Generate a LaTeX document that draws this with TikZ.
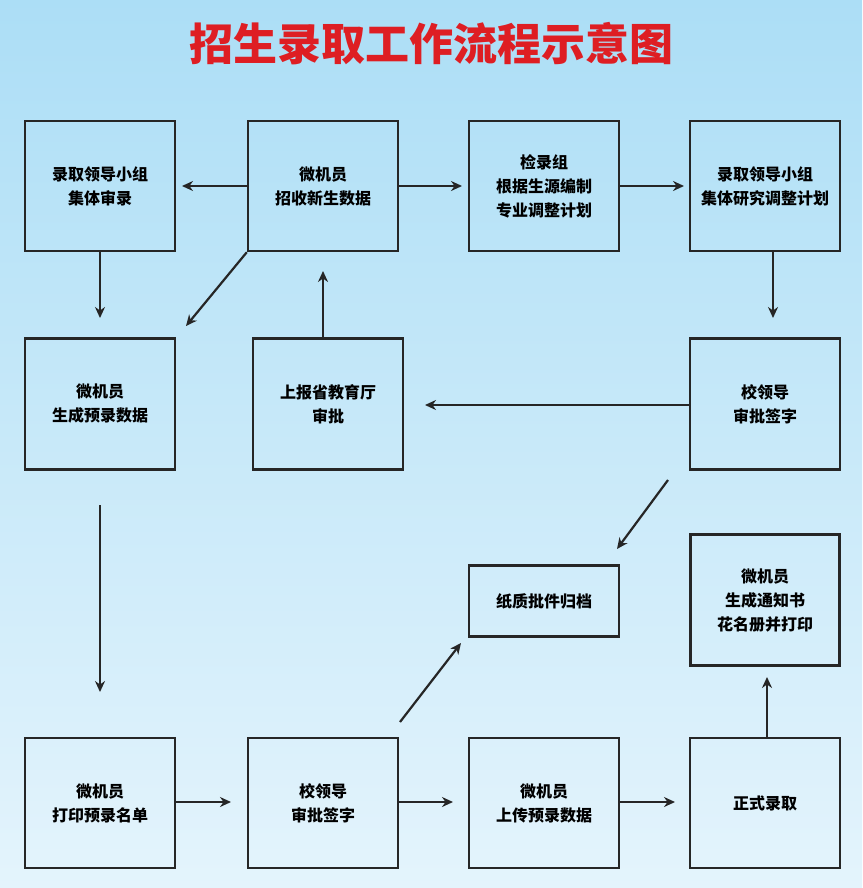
\documentclass[tikz,border=0pt]{standalone}
\usepackage{fontspec}
\newfontfamily\cjk{Noto Sans CJK SC}
\usetikzlibrary{arrows.meta}
\definecolor{bgtop}{RGB}{172,222,246}
\definecolor{bgbot}{RGB}{228,244,252}
\definecolor{titlered}{RGB}{222,30,35}
\tikzset{
  box/.style={draw=black!85, line width=2.4pt, minimum width=150pt, minimum height=130pt,
    align=center, font=\cjk\fontsize{16}{24}\selectfont\bfseries, inner sep=0pt},
  arr/.style={-{Stealth[length=11pt,width=10pt]}, line width=2.2pt, black!85}
}
\begin{document}
\begin{tikzpicture}[x=1pt,y=-1pt]
  \shade[top color=bgtop, bottom color=bgbot] (0,0) rectangle (862,888);
  \useasboundingbox (0,0) rectangle (862,888);
  \node[font=\cjk\fontsize{44}{48}\selectfont\bfseries, text=titlered] (title) at (431,44)
    {招生录取工作流程示意图};
  % row 1
  \node[box] (lingdao) at (100,186) {录取领导小组\\集体审录};
  \node[box] (weiji) at (323,186) {微机员\\招收新生数据};
  \node[box] (jianlu) at (544,186) {检录组\\根据生源编制\\专业调整计划};
  \node[box] (yanjiu) at (765,186) {录取领导小组\\集体研究调整计划};
  % row 2
  \node[box, minimum height=131pt] (yulu) at (100,404) {微机员\\生成预录数据};
  \node[box, minimum height=131pt] (shangbao) at (328,404) {上报省教育厅\\审批};
  \node[box, minimum height=131pt] (xiao) at (765,404) {校领导\\审批签字};
  % row 3
  \node[box, minimum height=71pt] (guidang) at (544,601) {纸质批件归档};
  \node[box, minimum width=149pt, minimum height=131pt] (tongzhi) at (765,600) {微机员\\生成通知书\\花名册并打印};
  % row 4
  \node[box] (dayin) at (100,803) {微机员\\打印预录名单};
  \node[box] (xiao2) at (323,803) {校领导\\审批签字};
  \node[box] (shangchuan) at (544,803) {微机员\\上传预录数据};
  \node[box] (zhengshi) at (765,803) {正式录取};
  % free ends
  \coordinate (p1) at (182,186);
  \coordinate (p2) at (462,186);
  \coordinate (p3) at (684,186);
  \coordinate (p4) at (100,318);
  \coordinate (p5) at (186,326);
  \coordinate (p6) at (323,271);
  \coordinate (p7) at (773,318);
  \coordinate (p8) at (425,405);
  \coordinate (q1) at (668,480);
  \coordinate (p9) at (617,549);
  \coordinate (q2) at (100,505);
  \coordinate (p10) at (100,692);
  \coordinate (p11) at (231,802);
  \coordinate (p12) at (453,802);
  \coordinate (p13) at (675,802);
  \coordinate (p14) at (767,677);
  \coordinate (q3) at (400,722);
  \coordinate (p15) at (461,643);
  % arrows
  \draw[arr] (weiji.west) -- (p1);
  \draw[arr] (weiji.east) -- (p2);
  \draw[arr] (jianlu.east) -- (p3);
  \draw[arr] (lingdao.south) -- (p4);
  \draw[arr] (weiji.south west) -- (p5);
  \draw[arr] (shangbao.north -| p6) -- (p6);
  \draw[arr] (yanjiu.south -| p7) -- (p7);
  \draw[arr] (xiao.west |- p8) -- (p8);
  \draw[arr] (q1) -- (p9);
  \draw[arr] (q2) -- (p10);
  \draw[arr] (dayin.east |- p11) -- (p11);
  \draw[arr] (xiao2.east |- p12) -- (p12);
  \draw[arr] (shangchuan.east |- p13) -- (p13);
  \draw[arr] (zhengshi.north -| p14) -- (p14);
  \draw[arr] (q3) -- (p15);
\end{tikzpicture}
\end{document}
